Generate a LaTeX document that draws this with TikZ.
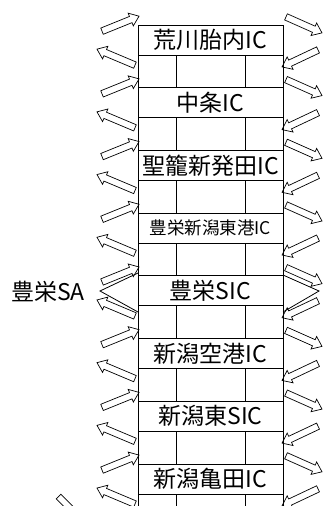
\documentclass[tikz,border=0pt]{standalone}
\usepackage{fontspec}
\newfontfamily\jpfont{Noto Sans CJK JP}
\usetikzlibrary{shapes.arrows,calc}

\tikzset{
    hollow/.style={single arrow,draw,line width=0.7pt,inner sep=3pt,
        single arrow head extend=3.5pt,single arrow tip angle=75,outer sep=0pt},
    icbox/.style={draw,line width=0.8pt,minimum width=145pt,minimum height=30pt,
        inner sep=0pt,fill=white},
}
% hollow block arrow from #1 to #2
\newcommand{\blockarrow}[2]{%
    \path let \p1=(#1), \p2=(#2),
        \n1={atan2(\y2-\y1,\x2-\x1)}, \n2={veclen(\x2-\x1,\y2-\y1)} in
        node[hollow,rotate=\n1,minimum height=\n2] at ($(\p1)!0.5!(\p2)$) {};}

\begin{document}
\begin{tikzpicture}[x=1pt,y=-1pt,line width=0.8pt]
        \clip (0,0) rectangle (326,506);

        % draw the road
        \draw (138,25) -- (138,506);
        \draw (283,25) -- (283,506);

        \foreach \i/\name/\fs in {
            0/荒川胎内IC/23,
            1/中条IC/23,
            2/聖籠新発田IC/23,
            3/豊栄新潟東港IC/17.5,
            4/豊栄SIC/23,
            5/新潟空港IC/23,
            6/新潟東SIC/23,
            7/新潟亀田IC/23} {
                \pgfmathsetmacro{\b}{25+62.7*\i}
                % lanes between the boxes
                \draw (176,\b+30) -- (176,\b+62.7);
                \draw (245,\b+30) -- (245,\b+62.7);
                % the interchange
                \node[icbox,font=\jpfont\fontsize{\fs}{\fs}\selectfont]
                    (ic\i) at (210.5,\b+15) {\name};
                % ramps on the left
                \blockarrow{100,\b+7}{137,\b-8}
                \blockarrow{137,\b+41}{99,\b+25}
                % ramps on the right
                \blockarrow{284,\b-9}{320,\b+7}
                \blockarrow{320,\b+24}{284,\b+41}
        }

        % the service area
        \node[font=\jpfont\fontsize{23}{23}\selectfont] (sa) at (48,292) {豊栄SA};
        \coordinate (sal) at (100,291);
        \coordinate (sar) at (319,291);
        \draw (138,273) -- (sal) -- (138,312);
        \draw (283,275) -- (sar) -- (283,312);

        % cut-off ramp at the bottom
        \blockarrow{57,495}{95,533}
    \end{tikzpicture}
\end{document}
